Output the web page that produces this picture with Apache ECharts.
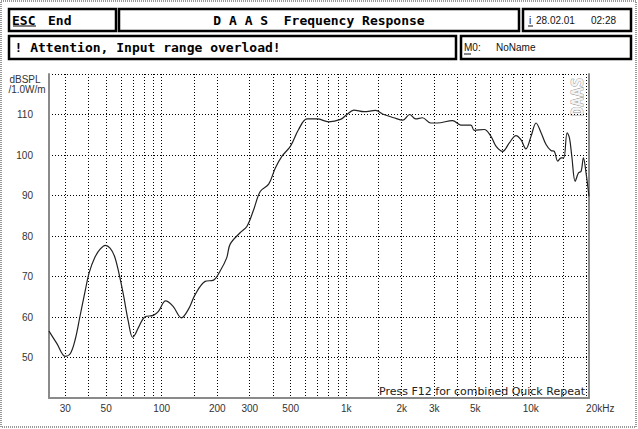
<!DOCTYPE html>
<html>
<head>
<meta charset="utf-8">
<script src="https://cdn.jsdelivr.net/npm/echarts@6/dist/echarts.min.js"></script>
<style>
html,body{margin:0;padding:0;background:#fff;}
#c{width:638px;height:429px;}
</style>
</head>
<body>
<div id="c"></div>
<script>
// ---- data ----
const freqHz = [24.5, 27, 30, 32, 34, 36, 38.5, 40.5, 43.5, 46.5, 49.5, 52.5, 55.5, 58.5, 62, 66, 69.5, 72, 75, 81, 90, 96, 105, 115, 128, 140, 152, 172, 191, 207, 225, 235, 266, 290, 315, 342, 380, 413, 449, 499, 552, 613, 696, 804, 932, 1010, 1100, 1250, 1440, 1600, 1810, 2030, 2210, 2380, 2590, 2870, 3120, 3770, 4180, 4740, 4940, 5600, 6090, 6480, 7050, 7660, 8320, 8850, 9420, 10040, 10690, 11380, 12110, 12880, 13430, 14010, 14620, 15110, 15750, 16220, 16700, 17420, 18160, 18760, 19310, 19950, 20700];
const splDb = [56.5, 53.5, 50.3, 51.0, 54.5, 60.0, 66.5, 71.0, 74.8, 76.8, 77.7, 77.0, 75.0, 71.0, 65.5, 58.8, 55.0, 55.8, 57.5, 60.0, 60.4, 61.4, 64.0, 62.7, 59.8, 62.0, 65.6, 68.8, 69.1, 71.3, 74.6, 78.0, 80.8, 82.4, 86.5, 91.0, 92.8, 96.8, 99.7, 102.2, 106.3, 108.9, 108.9, 108.2, 108.8, 110.0, 111.1, 110.7, 111.0, 110.0, 109.2, 108.6, 110.0, 108.9, 109.2, 107.9, 107.9, 108.5, 107.4, 107.4, 106.1, 106.3, 104.6, 102.2, 100.9, 103.0, 104.8, 103.8, 101.5, 104.6, 107.9, 105.5, 102.6, 101.1, 100.9, 98.5, 99.3, 99.3, 105.5, 104.2, 99.7, 93.5, 95.6, 96.0, 99.3, 95.6, 89.8];
const gridFreqs = [30, 40, 50, 60, 70, 80, 90, 100, 150, 200, 300, 400, 500, 600, 700, 800, 900, 1000, 1500, 2000, 3000, 4000, 5000, 6000, 7000, 8000, 9000, 10000, 15000, 20000];
const labelFreqs = [30, 50, 100, 200, 300, 500, 1000, 2000, 3000, 5000, 10000, 20000];
const labelTexts = ['30', '50', '100', '200', '300', '500', '1k', '2k', '3k', '5k', '10k', '20kHz'];

const chart = echarts.init(document.getElementById('c'), null, {renderer: 'svg'});
const mono = 'DejaVu Sans Mono';
const sans = 'Liberation Sans';

function labelFor(v) {
  let best = 0, bd = Infinity;
  for (let i = 0; i < labelFreqs.length; i++) {
    const d = Math.abs(Math.log(v / labelFreqs[i]));
    if (d < bd) { bd = d; best = i; }
  }
  const t = labelTexts[best];
  return best === labelTexts.length - 1 ? '{r|' + t + '}' : t;
}

const axisGray = {color: '#8a8a8a', width: 2};
const dotted = {color: '#000', width: 1, type: [1, 2]};

const option = {
  animation: false,
  backgroundColor: '#fff',
  grid: {left: 49, top: 74, width: 540, height: 324},
  xAxis: {
    type: 'log', logBase: 10, min: 24.5, max: 20700,
    axisLine: {show: true, lineStyle: axisGray},
    axisTick: {show: false, customValues: gridFreqs},
    splitLine: {show: true, lineStyle: dotted},
    minorSplitLine: {show: false},
    axisLabel: {
      customValues: labelFreqs,
      formatter: labelFor,
      fontFamily: sans, fontSize: 10, color: '#333', margin: 5,
      rich: {r: {fontFamily: sans, fontSize: 10, color: '#333', padding: [0, 0, 0, 28]}}
    }
  },
  yAxis: [{
    type: 'value', min: 40, max: 120, interval: 10,
    axisLine: {show: true, lineStyle: axisGray},
    axisTick: {show: false},
    splitLine: {show: true, lineStyle: dotted},
    axisLabel: {
      formatter: v => (v <= 40 || v >= 120) ? '' : String(v),
      fontFamily: sans, fontSize: 10, color: '#333', margin: 16
    }
  }, {
    type: 'value', min: 40, max: 120, interval: 10, position: 'right',
    axisLine: {show: true, lineStyle: axisGray},
    axisTick: {show: false}, axisLabel: {show: false}, splitLine: {show: false}
  }],
  series: [{
    type: 'line', xAxisIndex: 0, yAxisIndex: 0,
    data: freqHz.map((f, i) => [f, splDb[i]]),
    smooth: 0.35, showSymbol: false, symbol: 'none',
    lineStyle: {color: '#222', width: 1.2},
    clip: true
  }],
  graphic: [
    {type: 'rect', shape: {x: 1, y: 1, width: 635, height: 426}, style: {fill: 'none', stroke: '#999', lineWidth: 2, lineDash: [1, 1]}, silent: true},
    {type: 'rect', shape: {x: 9, y: 9, width: 107, height: 22}, style: {fill: '#fff', stroke: '#000', lineWidth: 2.5}},
    {type: 'rect', shape: {x: 119, y: 9, width: 400, height: 22}, style: {fill: '#fff', stroke: '#000', lineWidth: 2.5}},
    {type: 'rect', shape: {x: 523, y: 9, width: 108, height: 22}, style: {fill: '#fff', stroke: '#000', lineWidth: 2.5}},
    {type: 'rect', shape: {x: 9, y: 36, width: 447, height: 23}, style: {fill: '#fff', stroke: '#000', lineWidth: 2.5}},
    {type: 'rect', shape: {x: 461, y: 36, width: 170, height: 23}, style: {fill: '#fff', stroke: '#000', lineWidth: 2.5}},
    {type: 'text', x: 12, y: 20, style: {text: 'ESC', font: 'bold 13px "' + mono + '"', fill: '#000', textVerticalAlign: 'middle'}},
    {type: 'line', shape: {x1: 13, y1: 26, x2: 36, y2: 26}, style: {stroke: '#000', lineWidth: 1}},
    {type: 'text', x: 48, y: 20, style: {text: 'End', font: 'bold 13px "' + mono + '"', fill: '#000', textVerticalAlign: 'middle'}},
    {type: 'text', x: 319, y: 20, style: {text: 'D A A S  Frequency Response', font: 'bold 13px "' + mono + '"', fill: '#000', textAlign: 'center', textVerticalAlign: 'middle'}},
    {type: 'text', x: 529, y: 20, style: {text: 'i', font: '10px "' + sans + '"', fill: '#111', textVerticalAlign: 'middle'}},
    {type: 'line', shape: {x1: 528, y1: 26, x2: 533, y2: 26}, style: {stroke: '#111', lineWidth: 1}},
    {type: 'text', x: 536, y: 20, style: {text: '28.02.01', font: '10px "' + sans + '"', fill: '#111', textVerticalAlign: 'middle'}},
    {type: 'text', x: 591, y: 20, style: {text: '02:28', font: '10px "' + sans + '"', fill: '#111', textVerticalAlign: 'middle'}},
    {type: 'text', x: 14.5, y: 47.5, style: {text: '! Attention, Input range overload!', font: 'bold 13px "' + mono + '"', fill: '#000', textVerticalAlign: 'middle'}},
    {type: 'text', x: 464, y: 47.5, style: {text: 'M0:', font: '10px "' + sans + '"', fill: '#111', textVerticalAlign: 'middle'}},
    {type: 'line', shape: {x1: 464, y1: 54, x2: 471, y2: 54}, style: {stroke: '#111', lineWidth: 1}},
    {type: 'text', x: 496, y: 47.5, style: {text: 'NoName', font: '10px "' + sans + '"', fill: '#111', textVerticalAlign: 'middle'}},
    {type: 'text', x: 25, y: 79, style: {text: 'dBSPL', font: '10px "' + sans + '"', fill: '#333', textAlign: 'center', textVerticalAlign: 'middle'}},
    {type: 'text', x: 27, y: 89.5, style: {text: '/1.0W/m', font: '10px "' + sans + '"', fill: '#333', textAlign: 'center', textVerticalAlign: 'middle'}},
    {type: 'text', x: 577, y: 97, rotation: Math.PI / 2, style: {text: 'DAAS', font: 'bold 16px "' + mono + '"', fill: '#f4f4f4', stroke: '#8c8c8c', lineWidth: 0.8, textAlign: 'center', textVerticalAlign: 'middle'}},
    {type: 'text', x: 379, y: 397, style: {text: 'Press F12 for combined Quick Repeat', font: '11px "DejaVu Sans"', fill: '#222', textVerticalAlign: 'bottom'}}
  ]
};
chart.setOption(option);
</script>
</body>
</html>
